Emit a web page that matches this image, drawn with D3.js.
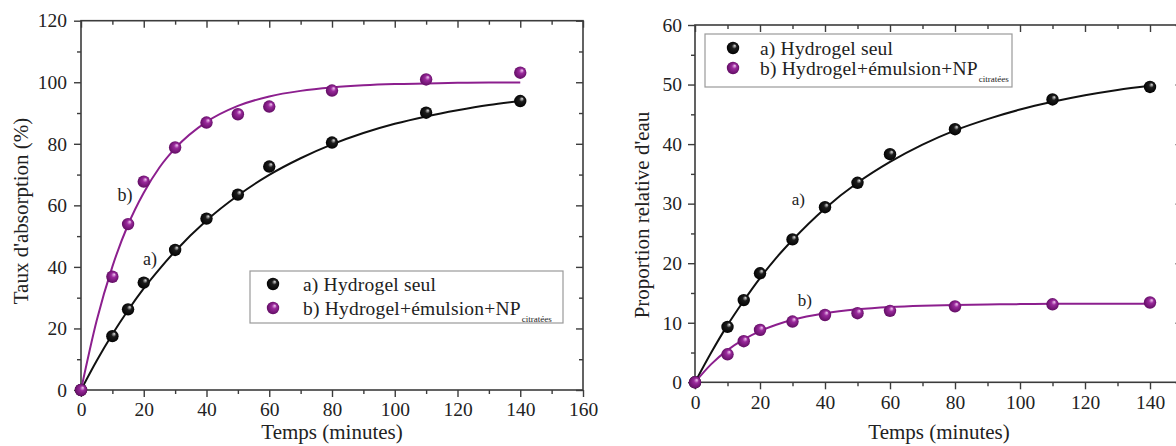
<!DOCTYPE html>
<html>
<head>
<meta charset="utf-8">
<script src="https://cdn.jsdelivr.net/npm/d3@7"></script>
<style>
  html, body { margin: 0; padding: 0; background: #fff; }
</style>
</head>
<body>
<svg id="chart" width="1176" height="446"></svg>
<script>
// Sampling times (minutes)
const timeMin = [0, 10, 15, 20, 30, 40, 50, 60, 80, 110, 140];

// Panel 1: absorption rate (%)
const absorptionHydrogel = [0, 17.5, 26.2, 34.9, 45.5, 55.7, 63.5, 72.6, 80.4, 90.1, 93.9];
const absorptionEmulsion = [0, 36.8, 53.9, 67.7, 78.8, 86.9, 89.6, 92.1, 97.3, 100.9, 103.1];

// Panel 2: relative water proportion
const waterHydrogel = [0, 9.3, 13.8, 18.3, 24.0, 29.4, 33.5, 38.3, 42.5, 47.5, 49.6];
const waterEmulsion = [0, 4.7, 6.9, 8.8, 10.2, 11.3, 11.6, 12.0, 12.75, 13.1, 13.4];

// Fitted kinetic curves, sampled along time
const fitTime = [0, 5, 10, 15, 20, 25, 30, 40, 50, 60, 70, 80, 90, 100, 110, 120, 130, 140];
const fitAbsorptionHydrogel = [0, 9.5, 18.1, 25.9, 33.0, 39.3, 45.1, 55.1, 63.2, 69.9, 75.3, 79.8, 83.5, 86.5, 88.9, 90.9, 92.6, 93.9];
const fitAbsorptionEmulsion = [0, 22.6, 40.1, 53.7, 64.1, 72.3, 78.5, 87.1, 92.3, 95.4, 97.2, 98.3, 99.0, 99.4, 99.6, 99.8, 99.9, 99.9];
const fitWaterHydrogel = [0, 5.0, 9.6, 13.7, 17.5, 20.9, 23.9, 29.2, 33.5, 37.0, 39.9, 42.3, 44.2, 45.8, 47.1, 48.2, 49.1, 49.8];
const fitWaterEmulsion = [0, 3.05, 5.4, 7.2, 8.6, 9.66, 10.5, 11.6, 12.25, 12.64, 12.87, 13.0, 13.08, 13.13, 13.17, 13.18, 13.19, 13.2];

// Axis ticks
const xTicksLeft = [0, 20, 40, 60, 80, 100, 120, 140, 160];
const xMinorLeft = [10, 30, 50, 70, 90, 110, 130, 150];
const yTicksLeft = [0, 20, 40, 60, 80, 100, 120];
const yMinorLeft = [10, 30, 50, 70, 90, 110];
const xTicksRight = [0, 20, 40, 60, 80, 100, 120, 140];
const xMinorRight = [10, 30, 50, 70, 90, 110, 130, 150];
const yTicksRight = [0, 10, 20, 30, 40, 50, 60];
const yMinorRight = [5, 15, 25, 35, 45, 55];

// Labels
const xTitle = "Temps (minutes)";
const yTitleLeft = "Taux d'absorption (%)";
const yTitleRight = "Proportion relative d'eau";
const legendLabels = ["a) Hydrogel seul", "b) Hydrogel+émulsion+NP"];
const legendSub = "citratées";
const curveTags = ["a)", "b)"];

const FONT = '"Liberation Serif", "Times New Roman", Times, serif';
const colBlack = "#111";
const colPurple = "#8c1f8e";
const axisCol = "#3c3c3c";
const textCol = "#222";

const svg = d3.select("#chart").attr("font-family", FONT);

// Shaded sphere fills for the markers
const defs = svg.append("defs");
function sphere(id, hi, mid, dark) {
  const g = defs.append("radialGradient").attr("id", id)
    .attr("cx", "50%").attr("cy", "50%").attr("r", "55%")
    .attr("fx", "66%").attr("fy", "30%");
  g.append("stop").attr("offset", "0%").attr("stop-color", hi);
  g.append("stop").attr("offset", "35%").attr("stop-color", mid);
  g.append("stop").attr("offset", "100%").attr("stop-color", dark);
}
sphere("ballBlack", "#e6e6e6", "#1c1c1c", "#000");
sphere("ballPurple", "#f4cdf4", "#9a2a9c", "#5c0a5e");

function txt(sel, size) {
  return sel.style("font-family", FONT).style("font-size", size + "px").attr("fill", textCol);
}

function panel(cfg) {
  const g = svg.append("g");
  const x = d3.scaleLinear().domain(cfg.xDomain).range(cfg.xRange);
  const y = d3.scaleLinear().domain(cfg.yDomain).range(cfg.yRange);
  const [x0, x1] = cfg.xRange;
  const [y0, y1] = cfg.yRange;

  function styleAxis(sel) {
    sel.attr("font-family", FONT);
    sel.select(".domain").remove();
    sel.selectAll("line").attr("stroke", axisCol).attr("stroke-width", 1.4);
    txt(sel.selectAll("text"), 19.5);
  }

  // bottom (outward ticks, labelled)
  g.append("g").attr("transform", `translate(0,${y0})`)
    .call(d3.axisBottom(x).tickValues(cfg.xTicks).tickSize(7).tickPadding(cfg.xPad).tickSizeOuter(0))
    .call(styleAxis);
  g.append("g").attr("transform", `translate(0,${y0})`)
    .call(d3.axisBottom(x).tickValues(cfg.xMinor).tickSize(4).tickFormat("").tickSizeOuter(0))
    .call(styleAxis);
  // left (outward ticks, labelled)
  g.append("g").attr("transform", `translate(${x0},0)`)
    .call(d3.axisLeft(y).tickValues(cfg.yTicks).tickSize(7).tickPadding(cfg.yPad).tickSizeOuter(0))
    .call(styleAxis);
  g.append("g").attr("transform", `translate(${x0},0)`)
    .call(d3.axisLeft(y).tickValues(cfg.yMinor).tickSize(4).tickFormat("").tickSizeOuter(0))
    .call(styleAxis);
  // top (inward ticks)
  g.append("g").attr("transform", `translate(0,${y1})`)
    .call(d3.axisBottom(x).tickValues(cfg.xTicks).tickSize(7).tickFormat("").tickSizeOuter(0))
    .call(styleAxis);
  g.append("g").attr("transform", `translate(0,${y1})`)
    .call(d3.axisBottom(x).tickValues(cfg.xMinor).tickSize(4).tickFormat("").tickSizeOuter(0))
    .call(styleAxis);
  // right (inward ticks)
  g.append("g").attr("transform", `translate(${x1},0)`)
    .call(d3.axisLeft(y).tickValues(cfg.yTicks).tickSize(7).tickFormat("").tickSizeOuter(0))
    .call(styleAxis);
  g.append("g").attr("transform", `translate(${x1},0)`)
    .call(d3.axisLeft(y).tickValues(cfg.yMinor).tickSize(4).tickFormat("").tickSizeOuter(0))
    .call(styleAxis);

  // frame
  g.append("rect").attr("x", x0).attr("y", y1).attr("width", x1 - x0).attr("height", y0 - y1)
    .attr("fill", "none").attr("stroke", axisCol).attr("stroke-width", 1.6);

  // axis titles
  txt(g.append("text").attr("x", cfg.xTitlePos[0]).attr("y", cfg.xTitlePos[1])
    .attr("text-anchor", "middle"), 21).text(xTitle);
  txt(g.append("text").attr("transform", `translate(${cfg.yTitlePos[0]},${cfg.yTitlePos[1]}) rotate(-90)`)
    .attr("text-anchor", "middle"), 21).text(cfg.yTitle);

  // fitted curves
  const line = d3.line().x((d, i) => x(fitTime[i])).y(d => y(d)).curve(d3.curveMonotoneX);
  g.append("path").datum(cfg.fitA).attr("d", line).attr("fill", "none")
    .attr("stroke", colBlack).attr("stroke-width", 2);
  g.append("path").datum(cfg.fitB).attr("d", line).attr("fill", "none")
    .attr("stroke", colPurple).attr("stroke-width", 2);

  // measured points
  const r = 6.2;
  g.append("g").selectAll("circle").data(cfg.ptsA).join("circle")
    .attr("cx", (d, i) => x(timeMin[i])).attr("cy", d => y(d)).attr("r", r)
    .attr("fill", "url(#ballBlack)");
  g.append("g").selectAll("circle").data(cfg.ptsB).join("circle")
    .attr("cx", (d, i) => x(timeMin[i])).attr("cy", d => y(d)).attr("r", r)
    .attr("fill", "url(#ballPurple)");

  // curve tags
  cfg.tags.forEach((t, i) => {
    txt(g.append("text").attr("x", x(t[0])).attr("y", y(t[1]))
      .attr("text-anchor", "middle"), cfg.tagSize).text(curveTags[i]);
  });

  // legend
  const L = cfg.legend;
  g.append("rect").attr("x", L.x).attr("y", L.y).attr("width", L.w).attr("height", L.h)
    .attr("fill", "#fff").attr("stroke", "#9a9a9a").attr("stroke-width", 1.2);
  const fills = ["url(#ballBlack)", "url(#ballPurple)"];
  legendLabels.forEach((lab, i) => {
    g.append("circle").attr("cx", L.mx).attr("cy", L.rows[i]).attr("r", r).attr("fill", fills[i]);
    const t = txt(g.append("text").attr("x", L.tx).attr("y", L.rows[i] + 7), 19.5)
      .style("letter-spacing", "0.2px").text(lab);
    if (i === 1) {
      const w = t.node().getComputedTextLength();
      txt(g.append("text").attr("x", L.tx + w + 1).attr("y", L.rows[i] + 14), 9).text(legendSub);
    }
  });
}

panel({
  xDomain: [0, 160], xRange: [81, 583],
  yDomain: [0, 120], yRange: [390, 20.7],
  xTicks: xTicksLeft, xMinor: xMinorLeft, yTicks: yTicksLeft, yMinor: yMinorLeft,
  xPad: 5, yPad: 7,
  xTitlePos: [332, 439], yTitlePos: [28, 211], yTitle: yTitleLeft,
  fitA: fitAbsorptionHydrogel, fitB: fitAbsorptionEmulsion,
  ptsA: absorptionHydrogel, ptsB: absorptionEmulsion,
  tags: [[22, 40.5], [14, 61.5]], tagSize: 18,
  legend: { x: 250, y: 271, w: 313, h: 52, mx: 273, tx: 303, rows: [284, 308] }
});

panel({
  xDomain: [0, 150], xRange: [695, 1182.5],
  yDomain: [0, 60], yRange: [382.3, 25],
  xTicks: xTicksRight, xMinor: xMinorRight, yTicks: yTicksRight, yMinor: yMinorRight,
  xPad: 6, yPad: 6,
  xTitlePos: [939, 439], yTitlePos: [649, 215], yTitle: yTitleRight,
  fitA: fitWaterHydrogel, fitB: fitWaterEmulsion,
  ptsA: waterHydrogel, ptsB: waterEmulsion,
  tags: [[31.8, 29.8], [33.8, 12.8]], tagSize: 17,
  legend: { x: 705, y: 34, w: 307, h: 53, mx: 733, tx: 760, rows: [48, 68] }
});
</script>
</body>
</html>
